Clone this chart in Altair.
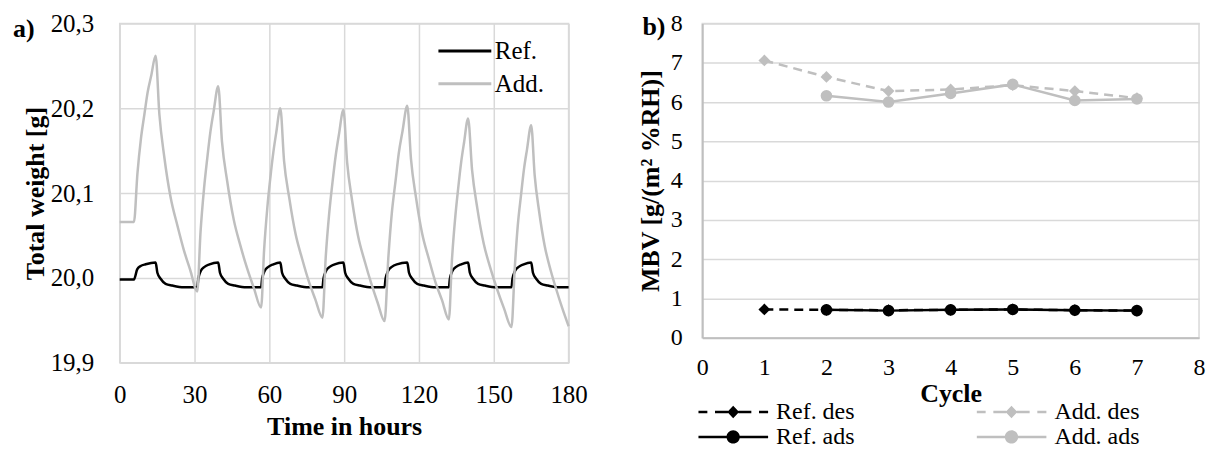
import altair as alt
import pandas as pd

FONT = "Liberation Serif"
GRID = "#d9d9d9"
GRAY = "#bfbfbf"

# ---------------- panel a) : total weight over time ----------------
ref_t = [0, 5.7, 7.0, 8.4, 10.4, 14.4, 15.1, 16.4, 18.4, 21.1, 25.7, 31.1,
         31.5, 32.5, 34.0, 36.0, 39.5, 40.2, 41.5, 43.5, 46.2, 50.8, 56.7,
         57.1, 58.1, 59.6, 61.6, 64.4, 65.1, 66.4, 68.4, 71.1, 75.7, 81.3,
         81.7, 82.7, 84.2, 86.2, 89.7, 90.4, 91.7, 93.7, 96.4, 101.0, 106.2,
         106.6, 107.6, 109.1, 111.1, 115.3, 116.0, 117.3, 119.3, 122.0, 126.6, 132.0,
         132.4, 133.4, 134.9, 136.9, 139.7, 140.4, 141.7, 143.7, 146.4, 151.0, 157.1,
         157.5, 158.5, 160.0, 162.0, 165.0, 165.7, 167.0, 169.0, 171.7, 176.3, 180.0]
ref_w = [19.998, 19.998, 20.010, 20.014, 20.016, 20.018, 20.006, 19.999, 19.993, 19.991, 19.989, 19.989,
         19.999, 20.008, 20.013, 20.016, 20.018, 20.006, 19.999, 19.993, 19.991, 19.989, 19.989,
         19.999, 20.008, 20.013, 20.016, 20.018, 20.006, 19.999, 19.993, 19.991, 19.989, 19.989,
         19.999, 20.008, 20.013, 20.016, 20.018, 20.006, 19.999, 19.993, 19.991, 19.989, 19.989,
         19.999, 20.008, 20.013, 20.016, 20.018, 20.006, 19.999, 19.993, 19.991, 19.989, 19.989,
         19.999, 20.008, 20.013, 20.016, 20.018, 20.006, 19.999, 19.993, 19.991, 19.989, 19.989,
         19.999, 20.008, 20.013, 20.016, 20.018, 20.006, 19.999, 19.993, 19.991, 19.989, 19.989]

add_t = [0,
         5.7, 7.1, 8.5, 9.9, 11.2, 12.6, 14.4,
         15.9, 17.9, 20.4, 23.1, 25.6, 28.3, 31.1,
         32.4, 33.8, 35.1, 36.4, 37.7, 39.5,
         41.0, 43.1, 45.7, 48.4, 51.0, 53.8, 56.7,
         57.9, 59.2, 60.4, 61.6, 62.8, 64.4,
         65.9, 68.0, 70.5, 73.2, 75.7, 78.4, 81.3,
         82.6, 84.0, 85.3, 86.6, 87.9, 89.7,
         91.2, 93.2, 95.6, 98.3, 100.8, 103.4, 106.2,
         107.7, 109.1, 110.6, 111.9, 113.4, 115.3,
         116.8, 118.8, 121.3, 124.0, 126.5, 129.2, 132.0,
         133.2, 134.5, 135.7, 136.9, 138.1, 139.7,
         141.3, 143.4, 146.0, 148.7, 151.4, 154.1, 157.1,
         158.4, 159.6, 160.9, 162.1, 163.3, 165.0,
         166.4, 168.2, 170.4, 172.8, 175.1, 177.5, 180.0]
add_w = [20.066,
         20.066, 20.123, 20.164, 20.193, 20.219, 20.238, 20.262,
         20.193, 20.142, 20.095, 20.062, 20.034, 20.009, 19.984,
         20.054, 20.105, 20.141, 20.173, 20.197, 20.226,
         20.161, 20.114, 20.069, 20.038, 20.012, 19.988, 19.965,
         20.033, 20.083, 20.118, 20.148, 20.172, 20.200,
         20.138, 20.094, 20.052, 20.022, 19.997, 19.975, 19.953,
         20.024, 20.076, 20.112, 20.144, 20.169, 20.198,
         20.136, 20.091, 20.049, 20.019, 19.994, 19.971, 19.949,
         20.023, 20.076, 20.114, 20.147, 20.173, 20.203,
         20.140, 20.095, 20.052, 20.022, 19.996, 19.974, 19.951,
         20.020, 20.070, 20.105, 20.136, 20.160, 20.188,
         20.127, 20.082, 20.040, 20.011, 19.986, 19.964, 19.942,
         20.011, 20.061, 20.097, 20.128, 20.151, 20.180,
         20.121, 20.078, 20.038, 20.009, 19.986, 19.964, 19.943]

left_series = ["Ref.", "Add."]
left_ticks_x = [0, 30, 60, 90, 120, 150, 180]
left_ticks_y = [19.9, 20.0, 20.1, 20.2, 20.3]

# ---------------- panel b) : MBV per cycle ----------------
cycles = [1, 2, 3, 4, 5, 6, 7]
ref_des = [0.72, 0.71, 0.70, 0.71, 0.72, 0.70, 0.69]
ref_ads = [None, 0.71, 0.69, 0.71, 0.72, 0.70, 0.69]
add_des = [7.06, 6.64, 6.28, 6.32, 6.43, 6.28, 6.10]
add_ads = [None, 6.16, 6.00, 6.22, 6.45, 6.04, 6.08]
# legend order (filled column by column: Ref. in the first column, Add. in the second)
right_series = ["Ref. des", "Ref. ads", "Add. des", "Add. ads"]
right_ticks = [0, 1, 2, 3, 4, 5, 6, 7, 8]

# ---------------- tables ----------------
left_df = pd.concat([
    pd.DataFrame({"t": ref_t, "w": ref_w, "sample": "Ref."}),
    pd.DataFrame({"t": add_t, "w": add_w, "sample": "Add."}),
], ignore_index=True)

rows = []
for name, vals in zip(["Ref. des", "Ref. ads", "Add. des", "Add. ads"],
                      [ref_des, ref_ads, add_des, add_ads]):
    for c, v in zip(cycles, vals):
        if v is not None:
            rows.append({"cycle": c, "mbv": v, "series": name})
right_df = pd.DataFrame(rows)

# ---------------- panel a) chart ----------------
xl = alt.X("t:Q", scale=alt.Scale(domain=[0, 180], nice=False),
           axis=alt.Axis(values=left_ticks_x, title="Time in hours", grid=True,
                         labelFontSize=25, labelPadding=20, titlePadding=6))
yl = alt.Y("w:Q", scale=alt.Scale(domain=[19.9, 20.3], nice=False, zero=False),
           axis=alt.Axis(values=left_ticks_y, title="Total weight [g]", grid=True,
                         labelExpr="replace(format(datum.value, '.1f'), '.', ',')",
                         labelFontSize=25, labelPadding=26, titlePadding=2))
color_l = alt.Color("sample:N",
                    scale=alt.Scale(domain=left_series, range=["#000000", GRAY]),
                    legend=alt.Legend(title=None, orient="none", legendX=318, legendY=11,
                                      symbolType="stroke", symbolSize=2809,
                                      symbolStrokeWidth=3, clipHeight=33, labelOffset=2,
                                      labelFont=FONT, labelFontSize=25, labelColor="black",
                                      padding=0, rowPadding=0))

base_l = alt.Chart(left_df).encode(x=xl, y=yl, color=color_l)
ref_line = base_l.transform_filter(alt.datum.sample == "Ref.").mark_line(
    strokeWidth=2.5, interpolate="monotone")
add_line = base_l.transform_filter(alt.datum.sample == "Add.").mark_line(
    strokeWidth=2.5, interpolate="monotone")
label_a = alt.Chart(pd.DataFrame({"lab": ["a)"]})).mark_text(
    font=FONT, fontSize=26, fontWeight="bold", align="left", baseline="middle", color="black"
).encode(x=alt.value(-107), y=alt.value(6), text="lab:N")

left = alt.layer(ref_line, add_line, label_a).properties(width=450, height=340)

# ---------------- panel b) chart ----------------
xr = alt.X("cycle:Q", scale=alt.Scale(domain=[0, 8], nice=False),
           axis=alt.Axis(values=right_ticks, title="Cycle", grid=False, domain=True,
                         domainColor=GRAY, domainWidth=2, labelFontSize=24,
                         labelPadding=18, titlePadding=1, format="d"))
yr = alt.Y("mbv:Q", scale=alt.Scale(domain=[0, 8], nice=False),
           axis=alt.Axis(values=right_ticks, title="MBV [g/(m² %RH)]", grid=True,
                         domain=True, domainColor=GRAY, domainWidth=2, labelFontSize=24,
                         labelPadding=20, titlePadding=7, format="d"))

layers = []
styles = {
    "Ref. des": ("#000000", [9, 6], "diamond", 140),
    "Ref. ads": ("#000000", None, "circle", 135),
    "Add. des": (GRAY, [9, 6], "diamond", 140),
    "Add. ads": (GRAY, None, "circle", 135),
}
for name in ["Ref. des", "Ref. ads", "Add. des", "Add. ads"]:
    col, dash, shp, sz = styles[name]
    b = alt.Chart(right_df).transform_filter(alt.datum.series == name).encode(x=xr, y=yr)
    if dash:
        ln = b.mark_line(color=col, strokeWidth=2.5, strokeDash=dash)
    else:
        ln = b.mark_line(color=col, strokeWidth=2.5)
    pt = b.mark_point(shape=shp, filled=True, color=col, size=sz, opacity=1, strokeWidth=0)
    layers += [ln, pt]

# legend symbols: line (dashed or solid) with the marker in the middle
p_dash_diamond = ("M-1,-0.036H-0.74V0.036H-1Z M-0.52,-0.036H-0.15V0.036H-0.52Z "
                  "M0.15,-0.036H0.52V0.036H0.15Z M0.74,-0.036H1V0.036H0.74Z "
                  "M0,-0.18L0.17,0L0,0.18L-0.17,0Z")
p_line_circle = ("M-1,-0.036H1V0.036H-1Z "
                 "M-0.19,0A0.19,0.19 0 1,1 0.19,0A0.19,0.19 0 1,1 -0.19,0Z")
leg_r = alt.Legend(title=None, orient="none", legendX=-4, legendY=377, columns=2,
                   columnPadding=122, rowPadding=0, clipHeight=25, symbolSize=4900,
                   symbolStrokeWidth=0, labelOffset=8, labelFont=FONT, labelFontSize=24,
                   labelColor="black", padding=0, symbolOpacity=1)
leg_df = pd.DataFrame({"cycle": [-10, -10, -10, -10], "mbv": [1, 1, 1, 1],
                       "series": right_series})
dummy = alt.Chart(leg_df).mark_point(filled=True, size=4900, clip=True, opacity=1,
                                     strokeWidth=0).encode(
    x=xr, y=yr,
    color=alt.Color("series:N", scale=alt.Scale(domain=right_series,
                                                range=["#000000", "#000000", GRAY, GRAY]),
                    legend=leg_r),
    shape=alt.Shape("series:N", scale=alt.Scale(domain=right_series,
                                                range=[p_dash_diamond, p_line_circle,
                                                       p_dash_diamond, p_line_circle]),
                    legend=leg_r),
)
label_b = alt.Chart(pd.DataFrame({"lab": ["b)"]})).mark_text(
    font=FONT, fontSize=26, fontWeight="bold", align="left", baseline="middle", color="black"
).encode(x=alt.value(-60), y=alt.value(4), text="lab:N")

right = alt.layer(*layers, dummy, label_b).properties(width=498, height=315)

chart = alt.hconcat(left, right, spacing=134, bounds="flush").resolve_scale(
    color="independent", shape="independent"
).resolve_legend(
    color="independent", shape="independent"
).properties(
    padding={"left": 4, "top": 2, "right": 0, "bottom": 0}
).configure_view(
    stroke=GRID, strokeWidth=1.5
).configure_axis(
    labelFont=FONT, titleFont=FONT, labelColor="black", titleColor="black",
    titleFontWeight="bold", titleFontSize=26, gridColor=GRID, gridWidth=1.5,
    ticks=False, domain=False, labelFlush=False, labelOverlap=False, labelBound=False
).configure_axisY(domain=False)

chart.save("out.html", embed_options={"renderer": "svg", "actions": False})
